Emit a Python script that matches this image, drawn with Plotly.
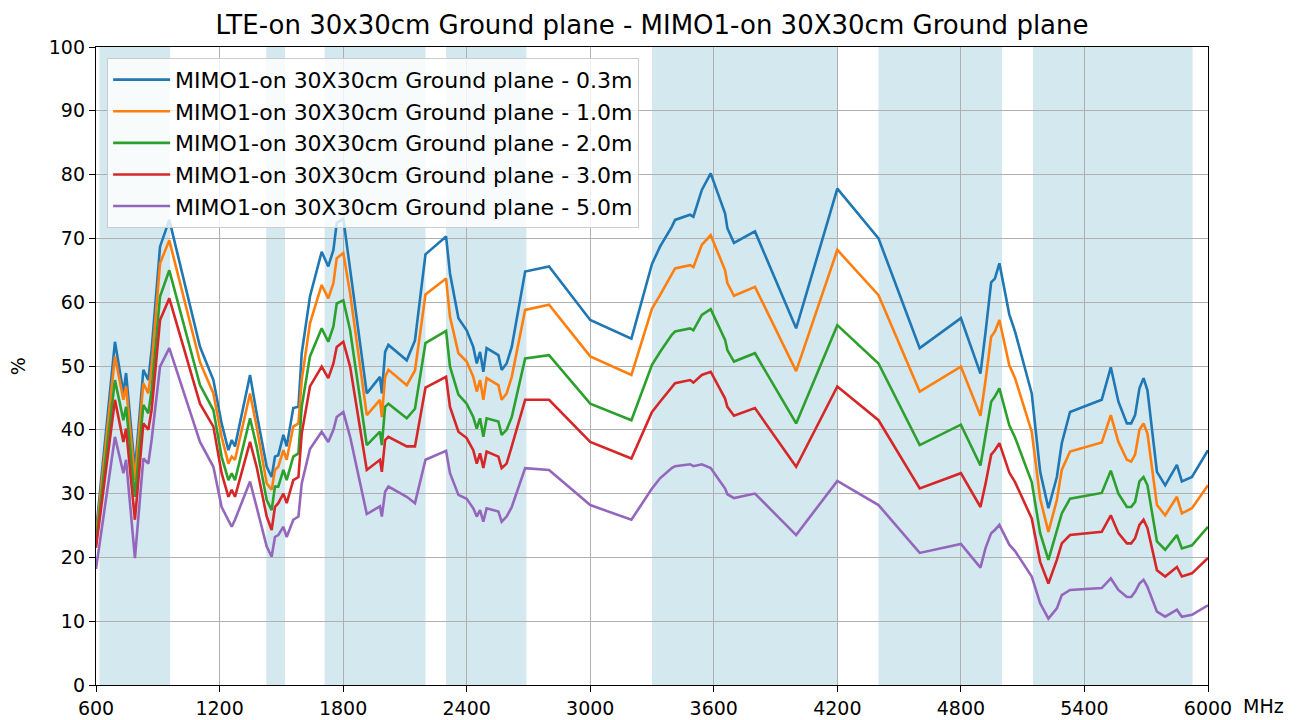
import plotly.graph_objects as go

freq = [600, 692, 733, 746, 789, 830, 854, 870, 911, 956, 1105, 1170, 1210, 1243, 1259, 1275,
        1348, 1380, 1429, 1453, 1469, 1485, 1510, 1526, 1558, 1583, 1599, 1639, 1696, 1728,
        1753, 1769, 1801, 1834, 1915, 1979, 1988, 2004, 2020, 2109, 2149, 2200, 2300, 2319,
        2360, 2400, 2432, 2449, 2465, 2481, 2497, 2554, 2570, 2594, 2619, 2684, 2800, 3000,
        3200, 3300, 3339, 3396, 3412, 3485, 3501, 3542, 3585, 3655, 3666, 3698, 3800, 4000,
        4200, 4400, 4600, 4800, 4895, 4920, 4947, 4965, 4987, 5035, 5063, 5144, 5185, 5225,
        5266, 5290, 5330, 5484, 5528, 5565, 5606, 5627, 5646, 5667, 5687, 5706, 5752, 5792,
        5849, 5873, 5922, 6000]

d03 = [24, 53.8, 45.8, 48.9, 33.7, 49.4, 47.8, 52.5, 68.7, 72.9, 53, 47.8, 41, 36.8, 38.4, 37.4,
       48.6, 42.6, 34.2, 32.6, 35.8, 36, 39.2, 37.4, 43.4, 43.6, 52, 60.9, 67.9, 65.6,
       68.2, 72.4, 73.1, 65, 45.7, 48.3, 45.7, 52.2, 53.3, 50.9, 54, 67.5, 70.3, 64.5,
       57.5, 55.6, 53, 50.4, 52.2, 49.1, 52.8, 51.7, 49.4, 50.4, 53, 64.8, 65.6, 57.2,
       54.3, 66, 68.7, 71.8, 72.9, 73.7, 73.4, 77.6, 80.2, 73.9, 71.6, 69.3, 71.1, 55.9,
       77.8, 70, 52.8, 57.5, 48.8, 55.4, 63.1, 63.7, 66.1, 58.1, 55.4, 45.7, 33.4, 27.7,
       32.6, 37.9, 42.8, 44.7, 49.8, 44.4, 41, 41, 42.3, 46.5, 48.1, 46.2, 33.4, 31.3,
       34.5, 31.9, 32.6, 36.8]

d10 = [23.2, 51.5, 44.7, 46.8, 32.1, 47.3, 45.7, 49.9, 66.1, 69.7, 50.6, 45.7, 38.9, 34.7, 35.8, 35.3,
       45.7, 40.5, 31.6, 30.6, 33.7, 34.2, 36.8, 35.3, 40.5, 41, 47.8, 56.7, 62.7, 60.6,
       63, 66.9, 67.7, 61.4, 42.3, 44.7, 42, 48.3, 49.4, 47, 49.3, 61.2, 63.7, 57.7,
       52, 50.7, 48.3, 46, 47.8, 44.7, 48.1, 47, 44.7, 45.7, 48.3, 58.8, 59.6, 51.5,
       48.6, 59, 61.1, 64.5, 65.3, 65.8, 65.5, 69, 70.5, 65, 63, 61, 62.4, 49.2,
       68.2, 61.1, 46, 49.9, 42.2, 47.8, 54.6, 55.4, 57.2, 50.1, 48.1, 39.7, 29.2, 24,
       29, 33.7, 36.6, 38, 42.3, 38.1, 35.3, 35, 36.1, 40, 41, 39.4, 28.2, 26.6,
       29.5, 26.9, 27.7, 31.3]

d20 = [22.5, 47.8, 41.5, 43.6, 29.5, 43.9, 42.6, 46.2, 60.9, 65, 47, 43.1, 35.8, 32.1, 33.2, 32.1,
       41.8, 37.4, 29, 27.4, 31.1, 31.1, 33.7, 32.1, 35.8, 36.3, 43.6, 51.5, 55.9, 53.8,
       56.2, 59.8, 60.3, 55.6, 37.6, 39.7, 37.6, 43.6, 44.1, 41.8, 43.3, 53.6, 55.5, 49.9,
       45.5, 44.1, 42, 40.2, 41.8, 38.9, 41.8, 41.3, 39.2, 40, 42, 51.2, 51.7, 44.1,
       41.5, 50.2, 52.2, 54.9, 55.4, 55.9, 55.6, 58, 58.9, 54.1, 52.5, 50.7, 52, 41,
       56.4, 50.4, 37.6, 40.8, 34.4, 39.2, 44.4, 45.2, 46.5, 40.7, 38.8, 31.8, 23.8, 19.6,
       24.3, 26.9, 29.2, 30.1, 33.6, 30, 27.9, 27.9, 28.7, 31.9, 32.6, 31.3, 22.5, 21.2,
       23.5, 21.4, 21.9, 24.8]

d30 = [21.5, 44.7, 38.1, 40.2, 25.9, 41, 40, 43.1, 57.2, 60.6, 44.1, 40.5, 33.2, 29.5, 30.6, 29.5,
       38.1, 34.2, 26.4, 24.3, 27.9, 28.5, 30, 28.5, 32.1, 32.6, 39.4, 46.8, 49.9, 48.1,
       50.4, 53, 53.8, 49.9, 33.7, 35.3, 33.4, 38.4, 38.9, 37.4, 37.4, 46.6, 48.3, 43.6,
       39.7, 38.7, 36.8, 34.7, 36.3, 34, 36.6, 35.8, 34, 34.7, 37.4, 44.7, 44.7, 38.1,
       35.5, 42.8, 44.4, 46.8, 47.3, 47.8, 47.4, 48.6, 49.1, 44.9, 43.6, 42.2, 43.4, 34.2,
       46.8, 41.5, 30.8, 33.2, 27.9, 31.6, 36.1, 36.8, 37.9, 33.3, 31.8, 26.1, 19.3, 15.9,
       19.6, 22.2, 23.5, 24, 26.6, 23.8, 22.2, 22.2, 23, 25.1, 25.9, 24.6, 18, 17,
       18.5, 17, 17.5, 19.9]

d50 = [18.2, 38.9, 33.2, 35.3, 19.9, 35.5, 34.7, 38.4, 49.9, 52.8, 38.1, 34.2, 27.9, 25.9, 24.8, 25.9,
       31.9, 27.9, 21.7, 20.1, 23.2, 23.5, 24.8, 23.2, 25.9, 26.4, 31.6, 37, 39.7, 38.1,
       40, 42, 42.8, 38.9, 26.8, 28, 26.4, 30.3, 31.1, 29.5, 28.5, 35.3, 36.7, 33.2,
       29.8, 29.2, 27.7, 26.4, 27.4, 25.6, 27.7, 27.2, 25.6, 26.4, 27.9, 34, 33.7, 28.2,
       25.9, 30.8, 32.4, 34, 34.3, 34.6, 34.3, 34.6, 34, 30.8, 29.9, 29.3, 30, 23.5,
       32, 28.2, 20.7, 22.1, 18.4, 21.5, 23.8, 24.3, 25.1, 22, 21, 17, 12.8, 10.4,
       12, 14.1, 14.9, 15.2, 16.7, 14.9, 13.8, 13.8, 14.6, 15.9, 16.5, 15.4, 11.5, 10.7,
       11.8, 10.7, 11, 12.5]

series_names = ["MIMO1-on 30X30cm Ground plane - 0.3m",
                "MIMO1-on 30X30cm Ground plane - 1.0m",
                "MIMO1-on 30X30cm Ground plane - 2.0m",
                "MIMO1-on 30X30cm Ground plane - 3.0m",
                "MIMO1-on 30X30cm Ground plane - 5.0m"]
series_values = [d03, d10, d20, d30, d50]
colors = ["#1f77b4", "#ff7f0e", "#2ca02c", "#d62728", "#9467bd"]

band_starts = [617, 1427, 1710, 2300, 3300, 4400, 5150]
band_ends = [960, 1518, 2200, 2690, 4200, 5000, 5925]

x_ticks = [600, 1200, 1800, 2400, 3000, 3600, 4200, 4800, 5400, 6000]
y_ticks = [0, 10, 20, 30, 40, 50, 60, 70, 80, 90, 100]

title_text = "LTE-on 30x30cm Ground plane - MIMO1-on 30X30cm Ground plane"

FONT = "DejaVu Sans"
W, H = 1297, 712   # page body adds an 8px offset

fig = go.Figure()
for name, vals, col in zip(series_names, series_values, colors):
    fig.add_trace(go.Scatter(x=freq, y=vals, mode="lines", name=name,
                             line=dict(color=col, width=2.6)))

for s, e in zip(band_starts, band_ends):
    fig.add_shape(type="rect", xref="x", yref="paper", x0=s, x1=e, y0=0, y1=1,
                  fillcolor="#d4e8ef", line=dict(width=0), layer="below")

fig.update_layout(
    width=W, height=H,
    margin=dict(l=88, r=97, t=39, b=35, autoexpand=False),
    paper_bgcolor="white", plot_bgcolor="white",
    font=dict(family=FONT, color="black", size=19),
    title=dict(text=title_text, x=0.5, xref="paper", xanchor="center",
               y=1 - 17 / H, yref="container", yanchor="middle",
               font=dict(family=FONT, size=26, color="black")),
    legend=dict(x=0.01, y=0.983, xanchor="left", yanchor="top",
                bgcolor="rgba(255,255,255,0.8)", bordercolor="#cccccc", borderwidth=1,
                font=dict(family=FONT, size=22, color="black"),
                itemwidth=57, tracegroupgap=0),
    showlegend=True,
)

fig.update_xaxes(range=[600, 6000], tickmode="array", tickvals=x_ticks,
                 ticktext=[str(t) for t in x_ticks], automargin=False,
                 showgrid=True, gridcolor="#b0b0b0", gridwidth=1.2,
                 showline=True, linecolor="black", linewidth=1.3, mirror=True,
                 ticks="outside", ticklen=6, tickcolor="black", tickwidth=1.2,
                 tickfont=dict(family=FONT, size=19, color="black"), zeroline=False)
fig.update_yaxes(range=[0, 100], tickmode="array", tickvals=y_ticks, automargin=False,
                 showgrid=True, gridcolor="#b0b0b0", gridwidth=1.2,
                 showline=True, linecolor="black", linewidth=1.3, mirror=True,
                 ticks="outside", ticklen=6, tickcolor="black", tickwidth=1.2,
                 tickfont=dict(family=FONT, size=19, color="black"), zeroline=False)

fig.add_annotation(text="MHz", xref="paper", yref="paper", x=1, y=-0.033,
                   xanchor="left", yanchor="middle", xshift=33, showarrow=False,
                   font=dict(family=FONT, size=19, color="black"))
fig.add_annotation(text="%", xref="paper", yref="paper", x=-0.07, y=0.5,
                   xanchor="center", yanchor="middle", textangle=-90, showarrow=False,
                   font=dict(family=FONT, size=19, color="black"))

fig.write_html("out.html")
